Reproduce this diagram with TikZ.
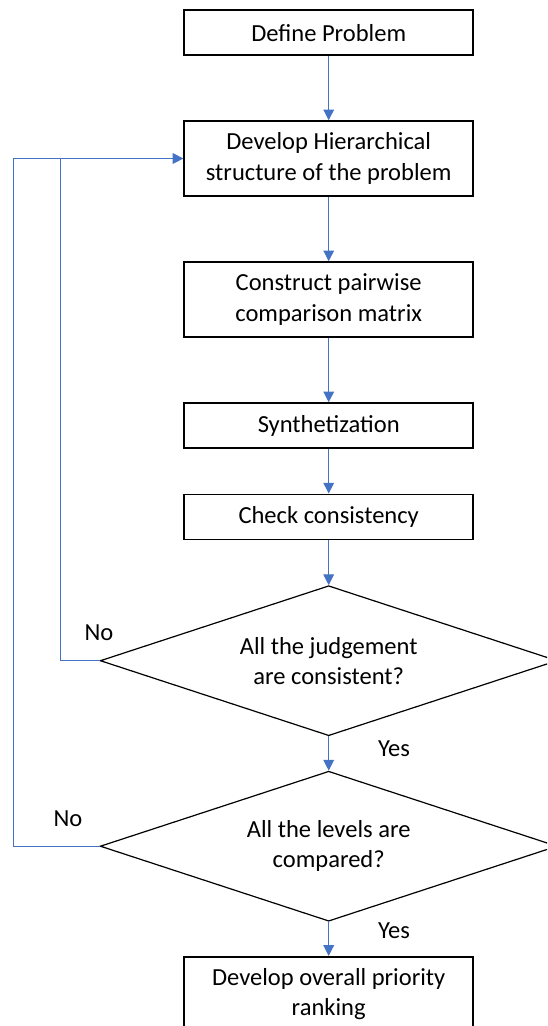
\documentclass[tikz,border=0pt]{standalone}
\usepackage{fontspec}
\setmainfont{Carlito}
\usetikzlibrary{shapes.geometric,arrows.meta}
\definecolor{connblue}{RGB}{68,114,196}
\tikzset{
  stepbox/.style={draw=black, line width=1.2pt, minimum width=216.75pt, align=center, inner sep=0pt, fill=white},
  shortbox/.style={stepbox, minimum height=33.75pt},
  tallbox/.style={stepbox, minimum height=56.25pt},
  decision/.style={diamond, draw=black, line width=0.9pt, aspect=3, inner sep=0pt, minimum width=342.75pt, minimum height=112.5pt, align=center},
  conn/.style={draw=connblue, line width=0.7pt, -{Triangle[length=8pt,width=8pt]}},
  plainconn/.style={draw=connblue, line width=0.7pt},
  lbl/.style={inner sep=0pt}
}
\begin{document}
\begin{tikzpicture}[x=0.75pt, y=-0.75pt, font=\fontsize{18.4pt}{22.6pt}\selectfont]
\useasboundingbox (0,0) rectangle (547,1026);
\clip (0,0) rectangle (547,1026);
\node[shortbox] (b1) at (328.7,32.7) {Define Problem};
\node[tallbox] (b2) at (328.7,158.5) {Develop Hierarchical\\structure of the problem};
\node[tallbox] (b3) at (328.7,299.5) {Construct pairwise\\comparison matrix};
\node[shortbox] (b4) at (328.7,425.5) {Synthetization};
\node[shortbox] (b5) at (328.7,516.8) {Check consistency};
\node[decision] (d1) at (328.7,660.7) {All the judgement\\are consistent?};
\node[decision] (d2) at (328.7,846.2) {All the levels are\\compared?};
\node[tallbox] (b6) at (328.7,994.2) {Develop overall priority\\ranking};
\coordinate (c1) at (60.3,158.5);
\coordinate (c2) at (13,158.5);
\node[lbl] (no1) at (99,633) {No};
\node[lbl] (no2) at (68,819) {No};
\node[lbl] (yes1) at (394,749) {Yes};
\node[lbl] (yes2) at (394,930.5) {Yes};
\draw[conn] (b1) -- (b2);
\draw[conn] (b2) -- (b3);
\draw[conn] (b3) -- (b4);
\draw[conn] (b4) -- (b5);
\draw[conn] (b5) -- (d1);
\draw[conn] (d1) -- (d2);
\draw[conn] (d2) -- (b6);
\draw[plainconn] (d1.west) -| (c1);
\draw[conn] (d2.west) -| (c2) -- (b2.west);
\end{tikzpicture}
\end{document}
